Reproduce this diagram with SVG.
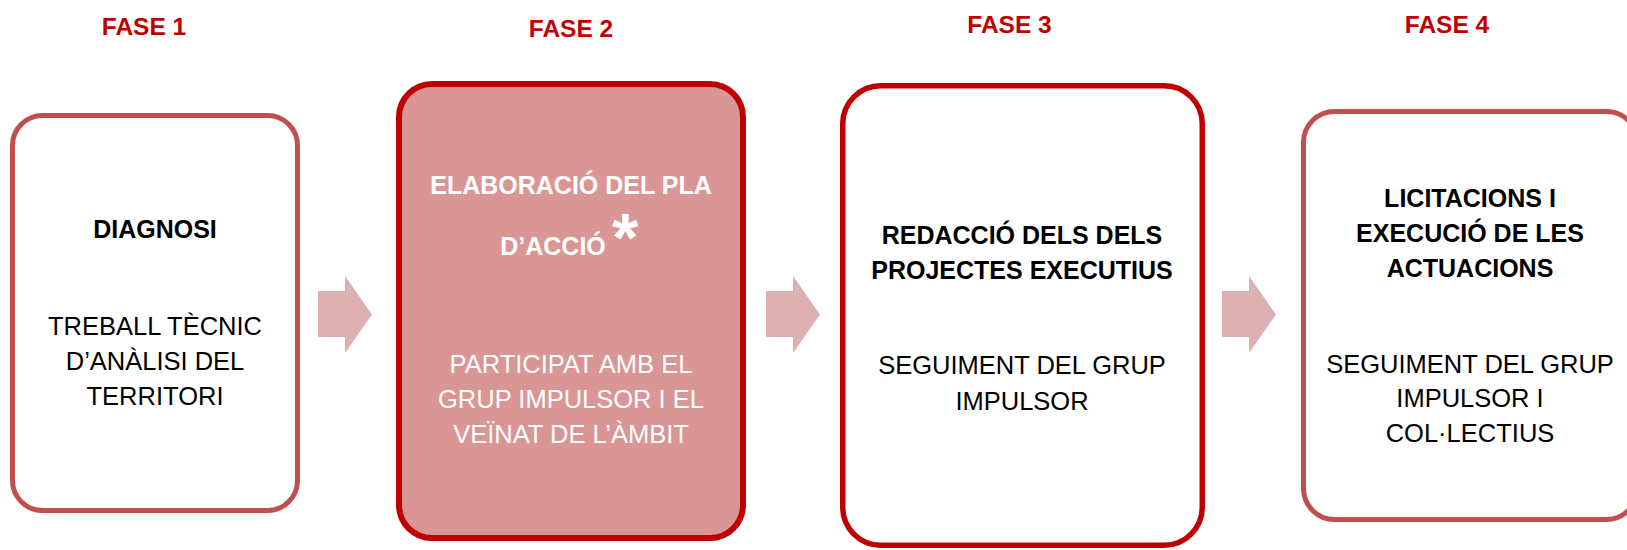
<svg xmlns="http://www.w3.org/2000/svg" width="1627" height="550" viewBox="0 0 1627 550">
<style>
  .fase { font-family: "Liberation Sans", Arial, sans-serif; font-weight: bold; font-size: 24.5px; fill: #C00000; text-anchor: middle; }
  .t { font-family: "Liberation Sans", Arial, sans-serif; font-size: 25.5px; fill: #000000; text-anchor: middle; }
  .b { font-weight: bold; font-size: 25px; }
  .w { fill: #FFFFFF; }
  .star { font-family: "Liberation Sans", Arial, sans-serif; font-weight: bold; font-size: 68px; fill: #FFFFFF; }
  .box-light { fill: #FFFFFF; stroke: #C0504D; stroke-width: 5; }
  .box-dark { fill: #FFFFFF; stroke: #C00000; stroke-width: 5.5; }
  .box-fill { fill: #D99694; stroke: #C00000; stroke-width: 6; }
  .arrow { fill: #DDB1B1; stroke: none; }
</style>
<rect width="1627" height="550" fill="#FFFFFF"/>
<g id="labels">
  <text class="fase" x="144" y="35">FASE 1</text>
  <text class="fase" x="571" y="37">FASE 2</text>
  <text class="fase" x="1009.5" y="33">FASE 3</text>
  <text class="fase" x="1447" y="33">FASE 4</text>
</g>
<g id="connectors">
  <polygon class="arrow" points="318,291 345,291 345,276 372,314.5 345,353 345,337 318,337"/>
  <polygon class="arrow" points="766,291 793,291 793,276 820,314.5 793,353 793,337 766,337"/>
  <polygon class="arrow" points="1222,291 1249,291 1249,276 1276,314.5 1249,353 1249,337 1222,337"/>
</g>
<g id="node-fase1">
  <rect class="box-light" x="12.5" y="115.5" width="285" height="395" rx="30" ry="30"/>
  <text class="t b" x="155" y="238">DIAGNOSI</text>
  <text class="t" x="155" y="335">TREBALL TÈCNIC</text>
  <text class="t" x="155" y="370">D’ANÀLISI DEL</text>
  <text class="t" x="155" y="405">TERRITORI</text>
</g>
<g id="node-fase2">
  <rect class="box-fill" x="399" y="84" width="344" height="454" rx="33" ry="33"/>
  <text class="t b w" x="571" y="194">ELABORACIÓ DEL PLA</text>
  <text class="t b w" x="553" y="255">D’ACCIÓ</text>
  <text class="star" x="612" y="261">*</text>
  <text class="t w" x="571" y="373">PARTICIPAT AMB EL</text>
  <text class="t w" x="571" y="408">GRUP IMPULSOR I EL</text>
  <text class="t w" x="571" y="443">VEÏNAT DE L’ÀMBIT</text>
</g>
<g id="node-fase3">
  <rect class="box-dark" x="842.75" y="85.75" width="359.5" height="459.5" rx="38" ry="38"/>
  <text class="t b" x="1022" y="244">REDACCIÓ DELS DELS</text>
  <text class="t b" x="1022" y="279">PROJECTES EXECUTIUS</text>
  <text class="t" x="1022" y="374">SEGUIMENT DEL GRUP</text>
  <text class="t" x="1022" y="410">IMPULSOR</text>
</g>
<g id="node-fase4">
  <rect class="box-light" x="1303.5" y="111.5" width="334" height="408" rx="31" ry="31"/>
  <text class="t b" x="1470" y="207">LICITACIONS I</text>
  <text class="t b" x="1470" y="242">EXECUCIÓ DE LES</text>
  <text class="t b" x="1470" y="277">ACTUACIONS</text>
  <text class="t" x="1470" y="373">SEGUIMENT DEL GRUP</text>
  <text class="t" x="1470" y="407">IMPULSOR I</text>
  <text class="t" x="1470" y="442">COL·LECTIUS</text>
</g>
</svg>
